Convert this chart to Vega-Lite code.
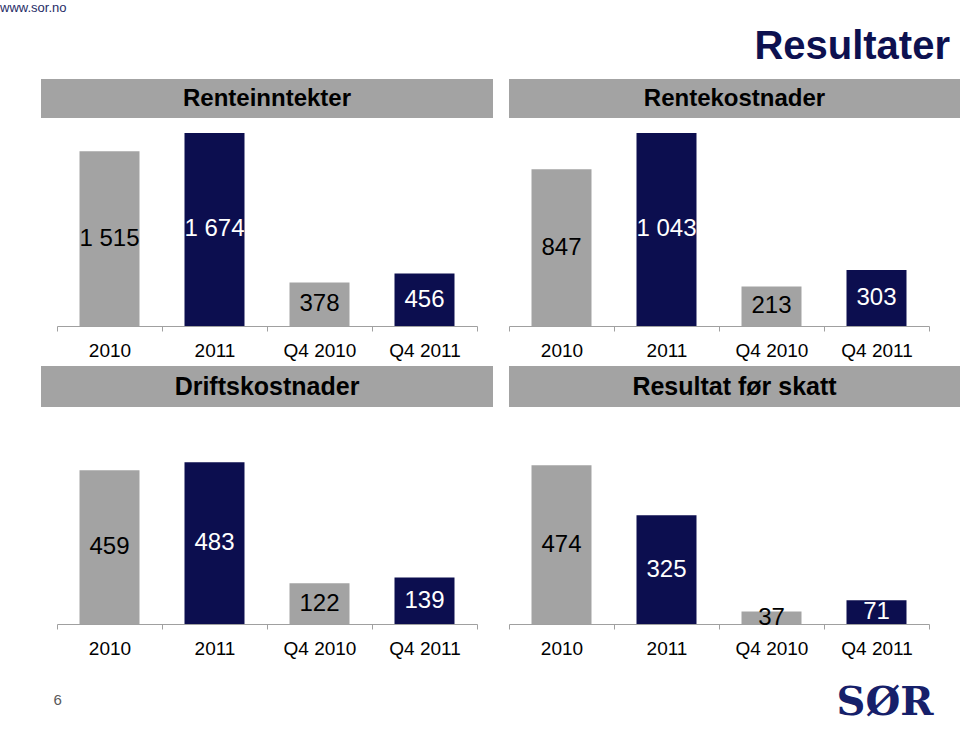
{
  "$schema": "https://vega.github.io/schema/vega-lite/v6.json",
  "padding": {"top": 2, "left": 0, "right": 0, "bottom": 0},
  "background": "white",
  "config": {
    "font": "Liberation Sans",
    "view": {"stroke": null},
    "locale": {"number": {"decimal": ",", "thousands": " ", "grouping": [3], "currency": ["", " kr"]}},
    "axis": {
      "title": null,
      "labelAngle": 0,
      "labelFont": "Liberation Sans",
      "labelFontSize": 19,
      "labelColor": "#000000",
      "labelPadding": 10,
      "tickSize": 5,
      "tickColor": "#a0a0a0",
      "domainColor": "#a0a0a0",
      "tickBand": "extent",
      "grid": false
    }
  },
  "datasets": {
    "d": [
      {"panel": "Renteinntekter", "period": "2010", "year": "2010", "value": 1515},
      {"panel": "Renteinntekter", "period": "2011", "year": "2011", "value": 1674},
      {"panel": "Renteinntekter", "period": "Q4 2010", "year": "2010", "value": 378},
      {"panel": "Renteinntekter", "period": "Q4 2011", "year": "2011", "value": 456},
      {"panel": "Rentekostnader", "period": "2010", "year": "2010", "value": 847},
      {"panel": "Rentekostnader", "period": "2011", "year": "2011", "value": 1043},
      {"panel": "Rentekostnader", "period": "Q4 2010", "year": "2010", "value": 213},
      {"panel": "Rentekostnader", "period": "Q4 2011", "year": "2011", "value": 303},
      {"panel": "Driftskostnader", "period": "2010", "year": "2010", "value": 459},
      {"panel": "Driftskostnader", "period": "2011", "year": "2011", "value": 483},
      {"panel": "Driftskostnader", "period": "Q4 2010", "year": "2010", "value": 122},
      {"panel": "Driftskostnader", "period": "Q4 2011", "year": "2011", "value": 139},
      {"panel": "Resultat før skatt", "period": "2010", "year": "2010", "value": 474},
      {"panel": "Resultat før skatt", "period": "2011", "year": "2011", "value": 325},
      {"panel": "Resultat før skatt", "period": "Q4 2010", "year": "2010", "value": 37},
      {"panel": "Resultat før skatt", "period": "Q4 2011", "year": "2011", "value": 71}
    ]
  },
  "bounds": "flush",
  "align": "each",
  "center": true,
  "columns": 2,
  "spacing": {"row": 0, "column": 16},
  "concat": [
    {
      "width": 452, "height": 39,
      "view": {"fill": "#a3a3a3", "stroke": null},
      "title": {"text": "www.sor.no", "anchor": "start", "dx": -41, "offset": 64, "fontSize": 13, "fontWeight": "normal", "color": "#262c66", "font": "Liberation Sans"},
      "data": {"values": [{"h": "Renteinntekter"}]},
      "mark": {"type": "text", "fontSize": 24, "fontWeight": "bold", "color": "#000000"},
      "encoding": {"text": {"field": "h"}}
    },
    {
      "width": 451, "height": 39,
      "view": {"fill": "#a3a3a3", "stroke": null},
      "title": {"text": "Resultater", "anchor": "end", "dx": -10, "offset": 12, "fontSize": 40, "fontWeight": "bold", "color": "#0d1150", "font": "Liberation Sans"},
      "data": {"values": [{"h": "Rentekostnader"}]},
      "mark": {"type": "text", "fontSize": 24, "fontWeight": "bold", "color": "#000000"},
      "encoding": {"text": {"field": "h"}}
    },
    {
      "width": 420, "height": 208,
      "data": {"name": "d"},
      "transform": [{"filter": "datum.panel === 'Renteinntekter'"}],
      "encoding": {"x": {"field": "period", "type": "nominal", "sort": null, "scale": {"paddingInner": 0, "paddingOuter": 0}}},
      "resolve": {"scale": {"y": "independent"}},
      "layer": [
        {"mark": {"type": "bar", "width": {"band": 0.5714}},
         "encoding": {"y": {"field": "value", "type": "quantitative", "scale": {"domain": [0, 1804], "nice": false}, "axis": null},
                      "color": {"field": "year", "type": "nominal", "scale": {"domain": ["2010", "2011"], "range": ["#a3a3a3", "#0c0e4f"]}, "legend": null}}},
        {"mark": {"type": "text", "fontSize": 24},
         "encoding": {"y": {"field": "value", "type": "quantitative", "scale": {"domain": [0, 3608], "nice": false}, "axis": null},
                      "text": {"field": "value", "type": "quantitative", "format": ",d"},
                      "color": {"condition": {"test": "datum.year === '2011'", "value": "#ffffff"}, "value": "#000000"}}}
      ]
    },
    {
      "width": 420, "height": 208,
      "data": {"name": "d"},
      "transform": [{"filter": "datum.panel === 'Rentekostnader'"}],
      "encoding": {"x": {"field": "period", "type": "nominal", "sort": null, "scale": {"paddingInner": 0, "paddingOuter": 0}}},
      "resolve": {"scale": {"y": "independent"}},
      "layer": [
        {"mark": {"type": "bar", "width": {"band": 0.5714}},
         "encoding": {"y": {"field": "value", "type": "quantitative", "scale": {"domain": [0, 1124], "nice": false}, "axis": null},
                      "color": {"field": "year", "type": "nominal", "scale": {"domain": ["2010", "2011"], "range": ["#a3a3a3", "#0c0e4f"]}, "legend": null}}},
        {"mark": {"type": "text", "fontSize": 24},
         "encoding": {"y": {"field": "value", "type": "quantitative", "scale": {"domain": [0, 2248], "nice": false}, "axis": null},
                      "text": {"field": "value", "type": "quantitative", "format": ",d"},
                      "color": {"condition": {"test": "datum.year === '2011'", "value": "#ffffff"}, "value": "#000000"}}}
      ]
    },
    {"width": 10, "height": 40, "data": {"values": []}, "mark": "text"},
    {"width": 10, "height": 40, "data": {"values": []}, "mark": "text"},
    {
      "width": 452, "height": 41,
      "view": {"fill": "#a3a3a3", "stroke": null},
      "data": {"values": [{"h": "Driftskostnader"}]},
      "mark": {"type": "text", "fontSize": 25, "fontWeight": "bold", "color": "#000000"},
      "encoding": {"text": {"field": "h"}}
    },
    {
      "width": 451, "height": 41,
      "view": {"fill": "#a3a3a3", "stroke": null},
      "data": {"values": [{"h": "Resultat før skatt"}]},
      "mark": {"type": "text", "fontSize": 25, "fontWeight": "bold", "color": "#000000"},
      "encoding": {"text": {"field": "h"}}
    },
    {
      "width": 420, "height": 217,
      "title": {"text": "6", "orient": "bottom", "anchor": "start", "dx": -3, "offset": 35, "fontSize": 15, "fontWeight": "normal", "color": "#595959", "font": "Liberation Sans"},
      "data": {"name": "d"},
      "transform": [{"filter": "datum.panel === 'Driftskostnader'"}],
      "encoding": {"x": {"field": "period", "type": "nominal", "sort": null, "scale": {"paddingInner": 0, "paddingOuter": 0}}},
      "resolve": {"scale": {"y": "independent"}},
      "layer": [
        {"mark": {"type": "bar", "width": {"band": 0.5714}},
         "encoding": {"y": {"field": "value", "type": "quantitative", "scale": {"domain": [0, 648], "nice": false}, "axis": null},
                      "color": {"field": "year", "type": "nominal", "scale": {"domain": ["2010", "2011"], "range": ["#a3a3a3", "#0c0e4f"]}, "legend": null}}},
        {"mark": {"type": "text", "fontSize": 24},
         "encoding": {"y": {"field": "value", "type": "quantitative", "scale": {"domain": [0, 1296], "nice": false}, "axis": null},
                      "text": {"field": "value", "type": "quantitative", "format": ",d"},
                      "color": {"condition": {"test": "datum.year === '2011'", "value": "#ffffff"}, "value": "#000000"}}}
      ]
    },
    {
      "width": 420, "height": 217,
      "title": {"text": "SØR", "orient": "bottom", "anchor": "end", "dx": 4, "offset": 25, "fontSize": 40, "fontWeight": "bold", "color": "#16206a", "font": "DejaVu Serif"},
      "data": {"name": "d"},
      "transform": [{"filter": "datum.panel === 'Resultat før skatt'"}],
      "encoding": {"x": {"field": "period", "type": "nominal", "sort": null, "scale": {"paddingInner": 0, "paddingOuter": 0}}},
      "resolve": {"scale": {"y": "independent"}},
      "layer": [
        {"mark": {"type": "bar", "width": {"band": 0.5714}},
         "encoding": {"y": {"field": "value", "type": "quantitative", "scale": {"domain": [0, 648], "nice": false}, "axis": null},
                      "color": {"field": "year", "type": "nominal", "scale": {"domain": ["2010", "2011"], "range": ["#a3a3a3", "#0c0e4f"]}, "legend": null}}},
        {"mark": {"type": "text", "fontSize": 24},
         "encoding": {"y": {"field": "value", "type": "quantitative", "scale": {"domain": [0, 1296], "nice": false}, "axis": null},
                      "text": {"field": "value", "type": "quantitative", "format": ",d"},
                      "color": {"condition": {"test": "datum.year === '2011'", "value": "#ffffff"}, "value": "#000000"}}}
      ]
    }
  ]
}
